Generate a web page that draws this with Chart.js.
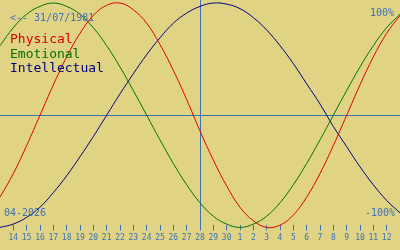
<!DOCTYPE html>
<html>
<head>
<meta charset="utf-8">
<script src="https://cdn.jsdelivr.net/npm/chart.js@4/dist/chart.umd.min.js"></script>
<style>
  html, body { margin: 0; padding: 0; background: #e0d384; }
  canvas { display: block; }
</style>
</head>
<body>
<canvas id="bio" width="400" height="250"></canvas>
<script>
// days shown on the axis (first and last are only the edges of the window)
const dayLabels = ['13', '14', '15', '16', '17', '18', '19', '20', '21', '22', '23', '24', '25', '26', '27',
  '28', '29', '30', '1', '2', '3', '4', '5', '6', '7', '8', '9', '10', '11', '12', '13'];

// cycle values (-1 .. 1), one per day
const physical = [-0.73, -0.52, -0.27, 0.0, 0.27, 0.52, 0.73, 0.89, 0.98, 1.0, 0.94, 0.82, 0.63, 0.4, 0.14,
  -0.14, -0.4, -0.63, -0.82, -0.94, -1.0, -0.98, -0.89, -0.73, -0.52, -0.27, 0.0, 0.27, 0.52, 0.73, 0.89];
const emotional = [0.62, 0.78, 0.9, 0.97, 1.0, 0.97, 0.9, 0.78, 0.62, 0.43, 0.22, 0.0, -0.22, -0.43, -0.62,
  -0.78, -0.9, -0.97, -1.0, -0.97, -0.9, -0.78, -0.62, -0.43, -0.22, 0.0, 0.22, 0.43, 0.62, 0.78, 0.9];
const intellectual = [-1.0, -0.97, -0.91, -0.82, -0.69, -0.54, -0.37, -0.19, 0.0, 0.19, 0.37, 0.54, 0.69, 0.82, 0.91,
  0.97, 1.0, 0.99, 0.95, 0.87, 0.76, 0.62, 0.46, 0.28, 0.1, -0.1, -0.28, -0.46, -0.62, -0.76, -0.87];

const birthDate = '31/07/1981';
const monthLabel = '04-2026';
const todayIndex = 15; // the 28th

const blue = '#3b72b8';
const font = '"DejaVu Sans Mono", monospace';

const overlay = {
  id: 'overlay',
  afterDatasetsDraw(chart) {
    const { ctx } = chart;
    ctx.save();
    ctx.textBaseline = 'alphabetic';

    ctx.fillStyle = blue;
    ctx.font = '10px ' + font;
    ctx.textAlign = 'left';
    ctx.fillText('<-- ' + birthDate, 10, 21);
    ctx.fillText(monthLabel, 4, 216);
    ctx.textAlign = 'right';
    ctx.fillText('100%', 394, 16);
    ctx.fillText('-100%', 395, 216);

    // series names
    ctx.font = '13px ' + font;
    ctx.textAlign = 'left';
    chart.data.datasets.forEach((ds, i) => {
      ctx.fillStyle = ds.borderColor;
      ctx.fillText(ds.label, 10, 43 + i * 14.5);
    });
    ctx.restore();
  },
};

new Chart(document.getElementById('bio'), {
  type: 'line',
  data: {
    labels: dayLabels,
    datasets: [
      { label: 'Physical', data: physical, borderColor: '#dc0000' },
      { label: 'Emotional', data: emotional, borderColor: '#007300' },
      { label: 'Intellectual', data: intellectual, borderColor: '#000082' },
    ],
  },
  options: {
    responsive: false,
    animation: false,
    layout: { autoPadding: false, padding: { left: 0, right: 0, top: 0, bottom: 4 } },
    elements: {
      line: { borderWidth: 1, tension: 0.4 },
      point: { radius: 0, hoverRadius: 0 },
    },
    datasets: { line: { clip: false } },
    plugins: {
      legend: { display: false },
      tooltip: { enabled: false },
    },
    scales: {
      x: {
        offset: false,
        border: { display: false },
        grid: {
          color: (c) => (c.index === todayIndex ? blue : 'transparent'),
          tickColor: (c) =>
            c.index === 0 || c.index === dayLabels.length - 1 ? 'transparent' : blue,
          tickLength: 5,
          lineWidth: 1,
        },
        ticks: {
          autoSkip: false,
          maxRotation: 0,
          // padding 0 keeps the plot edge to edge; the tall line height drops the labels instead
          padding: 0,
          color: blue,
          font: { family: font, size: 8, lineHeight: 1.95 },
          callback: (v, i) => (i === 0 || i === dayLabels.length - 1 ? '' : dayLabels[i]),
        },
      },
      y: {
        min: -0.982,
        max: 1.027,
        border: { display: false },
        grid: { color: blue, drawTicks: false, lineWidth: 1 },
        ticks: { display: false },
        afterBuildTicks: (axis) => {
          axis.ticks = [{ value: 0 }];
        },
      },
    },
  },
  plugins: [overlay],
});
</script>
</body>
</html>
